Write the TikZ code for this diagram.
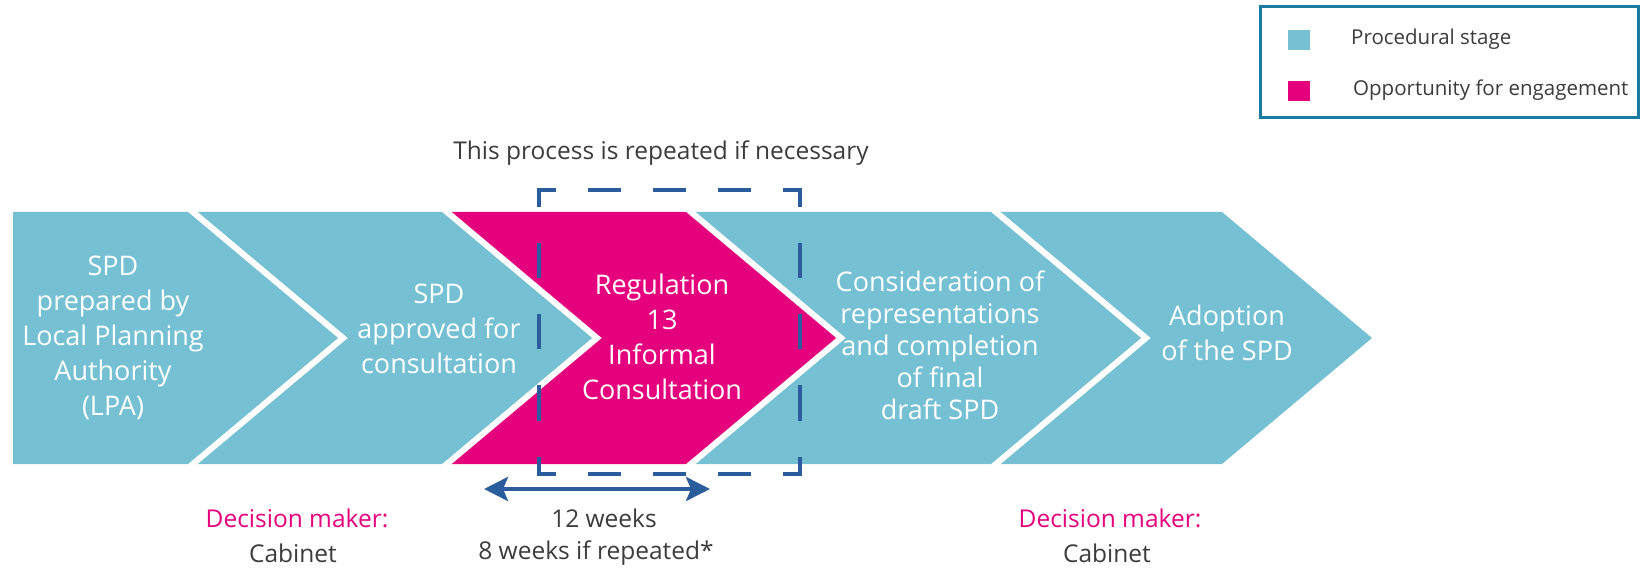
\documentclass[tikz,border=0pt]{standalone}
\usepackage{fontspec}
\setmainfont{Open Sans}
\usetikzlibrary{arrows.meta}
\definecolor{procblue}{HTML}{76C0D3}
\definecolor{engpink}{HTML}{E5007D}
\definecolor{dashblue}{HTML}{2B5D9C}
\definecolor{legblue}{HTML}{1A7BA0}
\definecolor{txtgray}{HTML}{3C3C3C}
\begin{document}
\begin{tikzpicture}[x=1pt,y=-1pt,
  stagetext/.style={text=white, align=center, inner sep=0pt, font=\fontsize{27}{35}\selectfont},
  graytext/.style={text=txtgray, align=center, inner sep=0pt, font=\fontsize{24.5}{30}\selectfont},
  pinktext/.style={text=engpink, align=center, inner sep=0pt, font=\fontsize{24.5}{30}\selectfont},
  legtext/.style={text=txtgray, anchor=west, inner sep=0pt, font=\fontsize{20.5}{24}\selectfont},
  sep/.style={white, line width=6pt, line join=miter},
  hdash/.style={dashblue, line width=4pt, line cap=rect, dash pattern=on 29pt off 36pt, dash phase=14.5pt},
  vdash/.style={dashblue, line width=4pt, line cap=rect, dash pattern=on 31pt off 40pt, dash phase=15.5pt}
]
\useasboundingbox (0,0) rectangle (1642,569);
\def\T{212}\def\B{464}\def\M{338}
% chevrons
\fill[procblue] (13,\T) -- (193,\T) -- (343,\M) -- (193,\B) -- (13,\B) -- cycle;
\fill[procblue] (193,\T) -- (447,\T) -- (597,\M) -- (447,\B) -- (193,\B) -- (343,\M) -- cycle;
\fill[engpink] (447,\T) -- (691,\T) -- (841,\M) -- (691,\B) -- (447,\B) -- (597,\M) -- cycle;
\fill[procblue] (691,\T) -- (996,\T) -- (1146,\M) -- (996,\B) -- (691,\B) -- (841,\M) -- cycle;
\fill[procblue] (996,\T) -- (1222,\T) -- (1372,\M) -- (1222,\B) -- (996,\B) -- (1146,\M) -- cycle;
% white separators
\foreach \b in {193,447,691,996}{
  \draw[sep] (\b-12,\T-10) -- (\b+150,\M) -- (\b-12,\B+10);
}
% stage texts
\node[stagetext] (s1) at (113,338) {SPD\\prepared by\\Local Planning\\Authority\\(LPA)};
\node[stagetext] (s2) at (439,329) {SPD\\approved for\\consultation};
\node[stagetext] (s3) at (662,337) {Regulation\\13\\Informal\\Consultation};
\node[stagetext, font=\fontsize{27}{32}\selectfont] (s4) at (940,345) {Consideration of\\representations\\and completion\\of final\\draft SPD};
\node[stagetext] (s5) at (1227,333) {Adoption\\of the SPD};
% dashed box
\coordinate (d1) at (539,190);
\coordinate (d2) at (800,190);
\coordinate (d3) at (800,474);
\coordinate (d4) at (539,474);
\draw[hdash] (d1) -- (d2);
\draw[hdash] (d4) -- (d3);
\draw[vdash] (d1) -- (d4);
\draw[vdash] (d2) -- (d3);
\node[graytext] (rep) at (661,153) {This process is repeated if necessary};
% arrow
\coordinate (al) at (484,489);
\coordinate (ar) at (710,489);
\draw[dashblue, line width=4pt, {Stealth[length=24pt,width=24pt,inset=5pt]}-{Stealth[length=24pt,width=24pt,inset=5pt]}] (al) -- (ar);
\node[graytext] (w1) at (604,518) {12 weeks};
\node[graytext] (w2) at (596,553) {8 weeks if repeated*};
\node[pinktext] (dm1) at (297,518) {Decision maker:};
\node[graytext] (c1) at (293,553) {Cabinet};
\node[pinktext] (dm2) at (1110,518) {Decision maker:};
\node[graytext] (c2) at (1107,553) {Cabinet};
% legend
\draw[legblue, line width=3pt] (1260,7) rectangle (1638,118);
\fill[procblue] (1288,30) rectangle (1310,50);
\fill[engpink] (1288,81) rectangle (1310,101);
\node[legtext] (l1) at (1351,39) {Procedural stage};
\node[legtext] (l2) at (1353,90) {Opportunity for engagement};
\end{tikzpicture}
\end{document}
